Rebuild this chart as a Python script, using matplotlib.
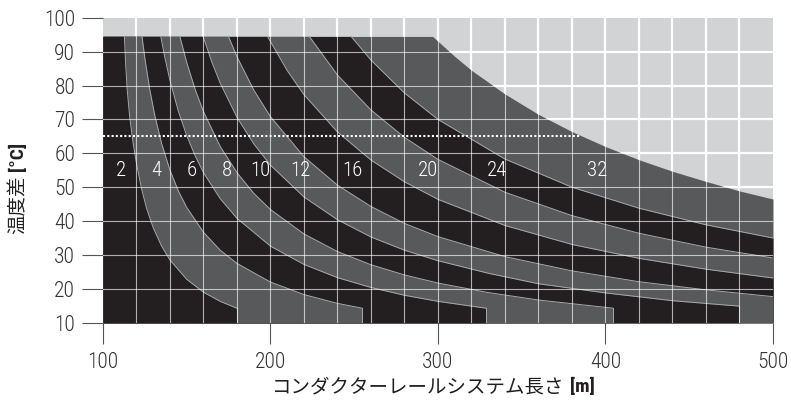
import numpy as np
import matplotlib.pyplot as plt
from matplotlib import font_manager

# temperature difference [°C] over conductor rail system length [m]
# one boundary curve per band label
labels = [2, 4, 6, 8, 10, 12, 16, 20, 24, 32]

len_2 = [112.8, 113.5, 114.5, 116, 118, 120, 123, 126, 130, 135, 140, 150, 160, 170, 179.8]
dt_2 = [94.5, 86.5, 78.5, 70.5, 63.0, 57.0, 49.6, 43.8, 38.0, 32.6, 28.5, 22.8, 19.0, 16.3, 14.3]

len_4 = [123.3, 125, 128, 131, 135, 140, 145, 150, 160, 170, 180, 200, 220, 240, 254.6]
dt_4 = [94.5, 88.0, 78.6, 71.0, 62.9, 55.0, 48.9, 44.0, 36.7, 31.4, 27.5, 22.0, 18.3, 15.7, 14.3]

len_6 = [134.5, 137, 140, 145, 150, 155, 160, 170, 180, 200, 220, 240, 260, 280, 300, 328.5]
dt_6 = [94.5, 88.1, 81.5, 72.4, 65.2, 59.3, 54.3, 46.6, 40.8, 32.6, 27.2, 23.3, 20.4, 18.1, 16.3, 14.3]

len_8 = [145.9, 150, 155, 160, 170, 180, 190, 200, 220, 240, 260, 280, 300, 330, 360, 404.3]
dt_8 = [94.5, 86.8, 78.9, 72.3, 62.0, 54.3, 48.2, 43.4, 36.2, 31.0, 27.1, 24.1, 21.7, 18.9, 16.7, 14.3]

len_10 = [159.8, 165, 170, 180, 190, 200, 220, 240, 260, 280, 300, 330, 360, 400, 440, 479.7]
dt_10 = [94.5, 86.9, 80.7, 70.6, 62.8, 56.5, 47.1, 40.4, 35.3, 31.4, 28.3, 24.6, 21.5, 18.8, 16.5, 14.9]

len_12 = [174.9, 180, 190, 200, 220, 240, 260, 280, 300, 340, 380, 420, 460, 500]
dt_12 = [94.5, 88.5, 78.7, 70.8, 59.0, 50.6, 44.3, 39.3, 35.4, 29.5, 25.3, 22.1, 19.7, 17.7]

len_16 = [198.2, 210, 220, 240, 260, 280, 300, 340, 380, 420, 460, 500]
dt_16 = [94.5, 84.4, 77.3, 66.3, 58.0, 51.6, 46.4, 38.7, 33.1, 29.0, 25.8, 23.2]

len_20 = [223.2, 240, 260, 280, 300, 340, 380, 420, 460, 500]
dt_20 = [94.5, 83.1, 72.8, 64.7, 58.2, 48.5, 41.6, 36.4, 32.3, 29.1]

len_24 = [248.1, 260, 280, 300, 340, 380, 420, 460, 500]
dt_24 = [94.5, 87.5, 77.8, 70.0, 58.3, 50.0, 43.8, 38.9, 35.0]

len_32 = [296.8, 310, 320, 340, 360, 380, 400, 420, 440, 460, 480, 500]
dt_32 = [94.5, 88.6, 84.5, 77.5, 71.5, 66.4, 62.0, 58.1, 54.7, 51.7, 48.9, 46.5]

curves = [(len_2, dt_2), (len_4, dt_4), (len_6, dt_6), (len_8, dt_8), (len_10, dt_10),
          (len_12, dt_12), (len_16, dt_16), (len_20, dt_20), (len_24, dt_24), (len_32, dt_32)]

# where the band numbers sit
label_len = [111, 132, 153, 174, 194, 218, 249, 294, 335, 395]
label_dt = 55

# dotted limit line
limit_dt = 65
limit_len = [100, 385]

dt_max = 94.5

BLACK = "#231f20"
DARK = "#58595b"
LIGHT = "#d1d3d4"
EDGE = "#a7a9ac"

# look for a narrow sans for the numbers, the original uses a condensed face
installed = {f.name for f in font_manager.fontManager.ttflist}
num_family = "DejaVu Sans"
num_stretch = "condensed"
for cand in ["Liberation Sans Narrow", "Roboto Condensed", "Open Sans Condensed", "DejaVu Sans Condensed"]:
    if cand in installed:
        num_family = cand
        num_stretch = "normal"
        break

plt.rcParams["font.family"] = [num_family, "Noto Sans CJK JP"]
plt.rcParams["font.stretch"] = num_stretch

fig = plt.figure(figsize=(7.91, 4.07), dpi=100)
ax = fig.add_axes([0.1302, 0.2071, 0.8470, 0.7492])
ax.set_xlim(100, 500)
ax.set_ylim(10, 100)
ax.set_facecolor(LIGHT)

# white grid under the bands (shows as gaps in the light grey)
for gx in range(120, 500, 20):
    ax.axvline(gx, color="white", lw=1.6, zorder=0.5)
for gy in range(20, 100, 10):
    ax.axhline(gy, color="white", lw=1.6, zorder=0.5)

# bands: widest first, narrower ones painted on top
for i in range(len(curves) - 1, -1, -1):
    xs, ys = curves[i]
    col = BLACK if i % 2 == 0 else DARK
    ax.fill_between([100] + xs, 10, [dt_max] + ys, color=col, lw=0, zorder=1 + 0.01 * (10 - i))

# thin boundary lines between bands
for xs, ys in curves[:-1]:
    ax.plot(xs, ys, color=EDGE, lw=0.7, zorder=3)
    if xs[-1] < 500:
        ax.plot([xs[-1], xs[-1]], [ys[-1], 10], color=EDGE, lw=0.7, zorder=3)

# faint grid over the bands
for gx in range(120, 500, 20):
    ax.axvline(gx, color="white", lw=0.8, alpha=0.65, zorder=4)
for gy in range(20, 100, 10):
    ax.axhline(gy, color="white", lw=0.8, alpha=0.65, zorder=4)

ax.plot(limit_len, [limit_dt, limit_dt], color="white", lw=1.5,
        linestyle=(0, (1, 1.05)), zorder=5)

for n, lx in zip(labels, label_len):
    ax.text(lx, label_dt, str(n), color="white", fontsize=15, fontweight="light",
            ha="center", va="center", zorder=6)

for s in ax.spines.values():
    s.set_visible(False)

ax.set_xticks([100, 200, 300, 400, 500])
ax.set_yticks(range(10, 101, 10))
ax.tick_params(axis="both", direction="out", length=15, width=0.8, color="#555555",
               labelsize=15.5, labelcolor="#333333")
ax.tick_params(axis="x", pad=6)
ax.tick_params(axis="y", pad=5)
for lbl in ax.get_xticklabels() + ax.get_yticklabels():
    lbl.set_fontweight("light")

# axis titles: japanese part + bold unit
xt = fig.text(272 / 791, 1 - 387 / 407, "コンダクターレールシステム長さ", fontsize=14,
              family=["Noto Sans CJK JP", "DejaVu Sans"], color="#231f20",
              ha="left", va="center")
ax.annotate("[m]", xy=(1, 0.5), xycoords=xt, xytext=(4, 0), textcoords="offset points",
            fontsize=14, fontweight="bold", color="#231f20", ha="left", va="center")

yt = fig.text(18 / 791, 1 - 234 / 407, "温度差", fontsize=14, rotation=90,
              family=["Noto Sans CJK JP", "DejaVu Sans"], color="#231f20",
              ha="center", va="bottom")
ax.annotate("[°C]", xy=(0.5, 1), xycoords=yt, xytext=(0, 3), textcoords="offset points",
            fontsize=14, fontweight="bold", rotation=90, color="#231f20",
            ha="center", va="bottom")

fig.savefig("out.png", dpi=100)
